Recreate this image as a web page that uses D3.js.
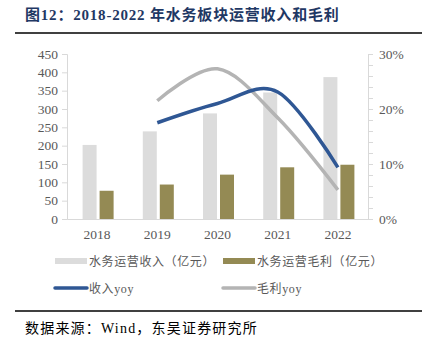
<!DOCTYPE html>
<html>
<head>
<meta charset="utf-8">
<script src="https://cdn.jsdelivr.net/npm/d3@7"></script>
<style>
  body { margin: 0; background: #fff; }
  svg text { font-family: "Liberation Serif", "DejaVu Serif", "Noto Sans CJK SC", serif; }
</style>
</head>
<body>
<svg id="chart" width="428" height="350"></svg>
<script>
const years = ["2018", "2019", "2020", "2021", "2022"];
const revenue = [202, 239, 288, 345, 387];
const grossProfit = [77, 94, 121, 141, 148];
const revenueYoy = [null, 17.5, 21.0, 23.1, 9.4];
const profitYoy = [null, 21.5, 27.3, 18.4, 5.3];
const leftTicks = [0, 50, 100, 150, 200, 250, 300, 350, 400, 450];
const rightTicks = [0, 10, 20, 30];

const svg = d3.select("#chart"),
    margin = {top: 54, right: 60, bottom: 131, left: 67},
    width = +svg.attr("width") - margin.left - margin.right,
    height = +svg.attr("height") - margin.top - margin.bottom,
    g = svg.append("g").attr("transform", `translate(${margin.left},${margin.top})`);

const axisColor = "#d9d9d9", labelColor = "#595959";

// Title
svg.append("text")
    .attr("x", 25).attr("y", 20)
    .attr("font-size", 15).attr("font-weight", "bold")
    .attr("letter-spacing", 0.8)
    .attr("fill", "#1f3864")
    .style("font-family", "'Liberation Serif', 'Noto Sans CJK SC', serif")
    .text("图12：2018-2022 年水务板块运营收入和毛利");
svg.append("line").attr("x1", 15).attr("x2", 422).attr("y1", 33).attr("y2", 33)
    .attr("stroke", "#000").attr("stroke-width", 1.5);

const x = d3.scaleBand().domain(years).range([0, width]);
const y = d3.scaleLinear().domain([0, 450]).range([height, 0]);
const y2 = d3.scaleLinear().domain([0, 30]).range([height, 0]);

// Bars
const barW = 14, gap = 3;
g.selectAll(".rev").data(years).join("rect")
    .attr("x", (d, i) => x(d) + x.bandwidth() / 2 - barW - gap / 2 + 1)
    .attr("y", (d, i) => y(revenue[i]))
    .attr("width", barW)
    .attr("height", (d, i) => height - y(revenue[i]))
    .attr("fill", "#dcdcdc");
g.selectAll(".gp").data(years).join("rect")
    .attr("x", (d, i) => x(d) + x.bandwidth() / 2 + gap / 2 + 1)
    .attr("y", (d, i) => y(grossProfit[i]))
    .attr("width", barW)
    .attr("height", (d, i) => height - y(grossProfit[i]))
    .attr("fill", "#948a54");

// Axes
const leftAxis = g.append("g")
    .call(d3.axisLeft(y).tickValues(leftTicks).tickSize(5).tickPadding(4));
const rightAxis = g.append("g")
    .attr("transform", `translate(${width},0)`)
    .call(d3.axisRight(y2).tickValues(d3.range(0, 31, 2)).tickSize(5).tickPadding(6)
        .tickFormat(d => rightTicks.includes(d) ? d + "%" : ""));
const bottomAxis = g.append("g")
    .attr("transform", `translate(0,${height})`)
    .call(d3.axisBottom(x).tickSize(0).tickPadding(10));

[leftAxis, rightAxis, bottomAxis].forEach(a => {
    a.selectAll("path, line").attr("stroke", axisColor);
    a.selectAll("text").attr("fill", labelColor).attr("font-size", 13.5)
        .style("font-family", "'Liberation Serif', serif");
});

// Lines
const line = d3.line()
    .x(d => x(d.year) + x.bandwidth() / 2)
    .y(d => y2(d.v))
    .curve(d3.curveCardinal);

const toPts = arr => years.map((year, i) => ({year, v: arr[i]})).filter(d => d.v != null);

g.append("path").datum(toPts(profitYoy))
    .attr("fill", "none").attr("stroke", "#b4b4b4").attr("stroke-width", 3.5)
    .attr("d", line);
g.append("path").datum(toPts(revenueYoy))
    .attr("fill", "none").attr("stroke", "#2f5794").attr("stroke-width", 3.5)
    .attr("d", line);

// Legend
const legend = svg.append("g").attr("font-size", 12);
const items = [
    {label: "水务运营收入（亿元）", type: "rect", color: "#dcdcdc", x: 55, y: 261},
    {label: "水务运营毛利（亿元）", type: "rect", color: "#948a54", x: 223, y: 261},
    {label: "收入yoy", type: "line", color: "#2f5794", x: 55, y: 288},
    {label: "毛利yoy", type: "line", color: "#b4b4b4", x: 223, y: 288}
];
items.forEach(it => {
    if (it.type === "rect") {
        legend.append("rect").attr("x", it.x).attr("y", it.y - 3).attr("width", 32).attr("height", 6).attr("fill", it.color);
    } else {
        legend.append("line").attr("x1", it.x).attr("x2", it.x + 32).attr("y1", it.y).attr("y2", it.y)
            .attr("stroke", it.color).attr("stroke-width", 3.5).attr("stroke-linecap", "round");
    }
    legend.append("text").attr("x", it.x + 34).attr("y", it.y + 4.5)
        .attr("fill", labelColor).attr("letter-spacing", 0.6)
        .style("font-family", "'Liberation Serif', 'Noto Sans CJK SC', serif")
        .text(it.label);
});

// Footer
svg.append("line").attr("x1", 15).attr("x2", 422).attr("y1", 311).attr("y2", 311)
    .attr("stroke", "#000").attr("stroke-width", 1.5);
svg.append("text").attr("x", 25).attr("y", 333).attr("font-size", 14).attr("fill", "#000")
    .attr("letter-spacing", 1.2)
    .style("font-family", "'Liberation Serif', 'Noto Sans CJK SC', serif")
    .text("数据来源：Wind，东吴证券研究所");
</script>
</body>
</html>
